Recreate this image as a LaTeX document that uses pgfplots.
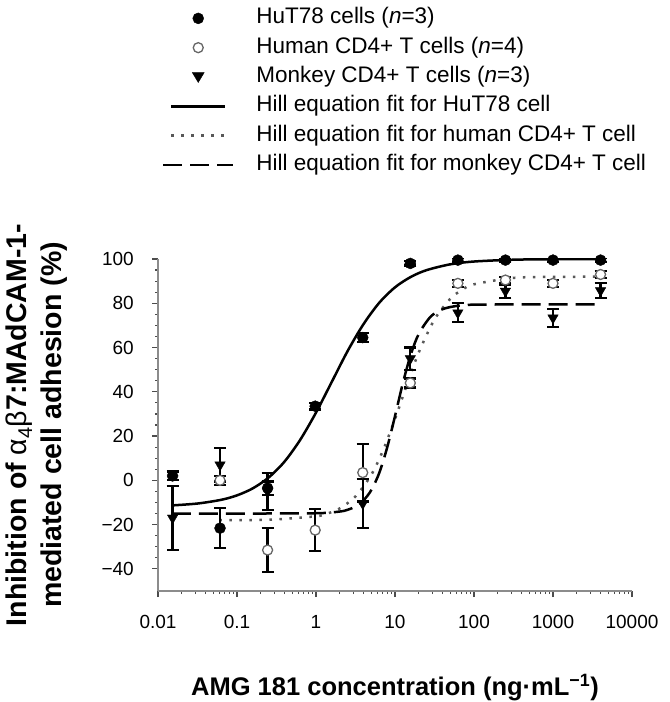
\documentclass[border=0pt]{standalone}
\usepackage{fontspec}
\setmainfont{Liberation Sans}
\usepackage{pgfplots}
\pgfplotsset{compat=1.18}
\pgfplotsset{myerr/.style={error bars/.cd, y dir=both, y explicit,
  error bar style={black, line width=2.3bp, solid},
  error mark options={rotate=90, black, line width=2.3bp, mark size=6bp, solid}}}
\begin{document}
\begin{tikzpicture}
\begin{axis}[
  scale only axis, width=474bp, height=332bp,
  xmode=log, xmin=0.01, xmax=10000, ymin=-50, ymax=100,
  axis x line*=bottom, axis y line*=left,
  axis line style={black!45, line width=1.6bp},
  xtick={0.01,0.1,1,10,100,1000,10000},
  xticklabels={0.01,0.1,1,10,100,1000,10000},
  ytick={-40,-20,0,20,40,60,80,100},
  yticklabels={−40,−20,0,20,40,60,80,100},
  minor y tick num=3,
  tick align=outside,
  major tick length=6bp, minor tick length=3bp,
  every tick/.style={black!70, line width=1.2bp},
  /pgf/number format/assume math mode=true,
  tick label style={font=\fontsize{19bp}{22bp}\selectfont, black},
  xticklabel style={inner sep=0pt, anchor=north, yshift=-18bp},
  yticklabel style={inner sep=0pt, anchor=east, xshift=-18bp},
  every axis y label/.style={at={(axis description cs:-0.255,0.5)}, rotate=90, anchor=center,
    align=center, font=\fontsize{28.5bp}{35bp}\selectfont\bfseries},
  ylabel={Inhibition of {\mdseries α\textsubscript{4}β}7:MAdCAM-1-\\mediated cell adhesion (\%)},
  every axis x label/.style={at={(axis description cs:0.5,0)}, anchor=center, yshift=-97bp,
    font=\fontsize{25.5bp}{30bp}\selectfont\bfseries},
  xlabel={AMG 181 concentration (ng·mL\textsuperscript{−1})},
  legend style={draw=none, fill=none, at={(axis description cs:0.008,1.757)}, anchor=north west,
    inner sep=0pt, row sep=8.3bp, column sep=22bp,
    font=\fontsize{22.5bp}{27bp}\selectfont,
    nodes={inner sep=0pt, text height=16bp, text depth=5bp}},
  legend cell align=left,
]
% ---- legend ----
\addlegendimage{legend image code/.code={\fill[black] (30bp,0bp) circle (5.5bp);}}
\addlegendentry{HuT78 cells (\textit{n}=3)}
\addlegendimage{legend image code/.code={\draw[black!60, fill=white, line width=1.3bp] (30bp,0bp) circle (5bp);}}
\addlegendentry{Human CD4+ T cells (\textit{n}=4)}
\addlegendimage{legend image code/.code={\fill[black] (24bp,4.5bp) -- (36bp,4.5bp) -- (30bp,-5.5bp) -- cycle;}}
\addlegendentry{Monkey CD4+ T cells (\textit{n}=3)}
\addlegendimage{legend image code/.code={\draw[black, line width=2.5bp] (3bp,0bp) -- (57bp,0bp);}}
\addlegendentry{Hill equation fit for HuT78 cell}
\addlegendimage{legend image code/.code={\draw[black!65, line width=2.5bp, dash pattern=on 2.5bp off 7.5bp] (3bp,0bp) -- (57bp,0bp);}}
\addlegendentry{Hill equation fit for human CD4+ T cell}
\addlegendimage{legend image code/.code={\draw[black, line width=2.5bp, dash pattern=on 19bp off 8bp] (-5bp,0bp) -- (65bp,0bp);}}
\addlegendentry{Hill equation fit for monkey CD4+ T cell}

% ---- Hill fits ----
\addplot[forget plot, black, line width=2.5bp, smooth, no marks] coordinates {
 (0.015,-11.33) (0.0316,-10.48) (0.0631,-8.8) (0.1,-6.79) (0.1585,-3.62) (0.2512,1.25)
 (0.3981,8.4) (0.631,18.3) (1,30.6) (1.585,44.5) (2.512,58.4) (3.981,70.5) (6.31,80.2)
 (10,87.2) (15.85,91.9) (25.12,94.97) (50.12,97.6) (100,98.86) (316.2,99.68) (1000,99.9) (4000,99.98)
};
\addplot[forget plot, black!65, line width=2.5bp, dash pattern=on 2.5bp off 7.5bp, smooth, no marks] coordinates {
 (0.06,-17.98) (0.2512,-17.81) (1,-16.24) (1.413,-14.93) (1.995,-12.7) (3.162,-7.3) (5.012,2.5)
 (7.079,13.65) (10,27.7) (14.13,43.2) (19.95,57.7) (31.62,72.7) (50.12,82) (70.8,86.1)
 (100,88.57) (316.2,91.47) (1000,91.92) (4000,92.0)
};
\addplot[forget plot, black, line width=2.5bp, dash pattern=on 19bp off 8bp, smooth, no marks] coordinates {
 (0.015,-15) (0.1,-15) (1,-14.87) (1.995,-14.1) (2.512,-13.31) (3.162,-11.83) (3.981,-9.13)
 (5.012,-4.41) (6.31,3.3) (7.943,14.7) (10,29.0) (12.59,44.0) (15.85,56.8) (19.95,66.07)
 (28.18,73.9) (39.81,77.29) (63.1,78.88) (125.9,79.41) (4000,79.5)
};

% ---- Monkey CD4+ T cells ----
\addplot[forget plot, only marks, mark=triangle*, mark size=6bp,
  mark options={black, fill=black, rotate=180}, myerr] coordinates {
 (0.0153,-17) +- (0,14.5)
 (0.061,7) +- (0,7.5)
 (0.244,-5) +- (0,8.3)
 (3.906,-10.5) +- (0,11)
 (15.625,55) +- (0,5)
 (62.5,75.7) +- (0,4.3)
 (250,85.5) +- (0,3)
 (1000,73.4) +- (0,4)
 (4000,85.7) +- (0,3.3)
};
% ---- Human CD4+ T cells ----
\addplot[forget plot, only marks, mark=*, mark size=5bp,
  mark options={draw=black!60, fill=white, line width=1.3bp}, myerr] coordinates {
 (0.061,0) +- (0,2)
 (0.244,-31.5) +- (0,10)
 (0.977,-22.5) +- (0,9.5)
 (3.906,3.5) +- (0,13)
 (15.625,44) +- (0,2)
 (62.5,89) +- (0,1.5)
 (250,90.5) +- (0,1.5)
 (1000,89) +- (0,1.5)
 (4000,93) +- (0,1.5)
};
% ---- HuT78 cells ----
\addplot[forget plot, only marks, mark=*, mark size=5.5bp,
  mark options={black, fill=black}, myerr] coordinates {
 (0.0153,2) +- (0,2)
 (0.061,-21.6) +- (0,9)
 (0.244,-3.5) +- (0,3)
 (0.977,33.5) +- (0,1.5)
 (3.906,64.5) +- (0,2)
 (15.625,98) +- (0,1)
 (62.5,99.5) +- (0,1)
 (250,99.5) +- (0,1)
 (1000,99.5) +- (0,1)
 (4000,99.5) +- (0,1)
};
\end{axis}
\pgfresetboundingbox
\path (-158bp,-111bp) rectangle (512bp,591bp);
\end{tikzpicture}
\end{document}
